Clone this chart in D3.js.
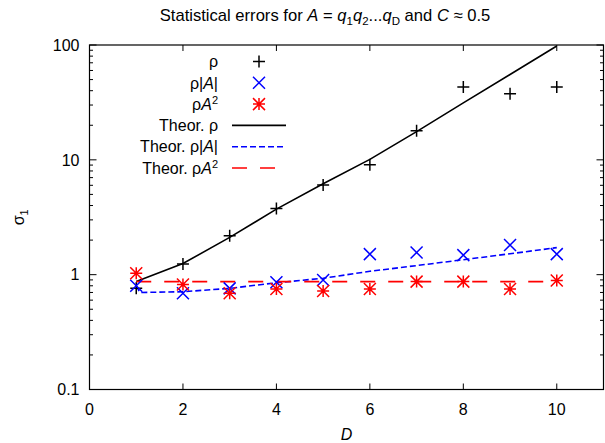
<!DOCTYPE html>
<html>
<head>
<meta charset="utf-8">
<script src="https://cdn.jsdelivr.net/npm/d3@7"></script>
<style>
  body { margin: 0; background: #fff; }
  text { font-family: "Liberation Sans", Arial, sans-serif; fill: #000; }
</style>
</head>
<body>
<div id="plot1"></div>
<script>
// Data
var dims = [1, 2, 3, 4, 5, 6, 7, 8, 9, 10];
var rhoErr = [0.76, 1.24, 2.18, 3.77, 6.03, 9.05, 17.9, 43.1, 37.7, 43.1];
var rhoAbsAErr = [0.80, 0.69, 0.76, 0.86, 0.90, 1.51, 1.56, 1.48, 1.81, 1.51];
var rhoA2Err = [1.03, 0.82, 0.69, 0.75, 0.72, 0.75, 0.87, 0.87, 0.75, 0.89];

// Theoretical curves
var theorRho = [0.87, 1.25, 2.11, 3.72, 6.2, 10.1, 17.6, 31.3, 55.4, 98];
var theorAbsADims = [1, 1.08, 2, 3, 4, 5, 6, 7, 8, 9, 10];
var theorAbsA = [0.80, 0.70, 0.71, 0.76, 0.85, 0.93, 1.07, 1.2, 1.35, 1.52, 1.72];
var theorA2 = [0.87, 0.87, 0.87, 0.87, 0.87, 0.87, 0.87, 0.87, 0.87, 0.87];

var xTicks = [0, 2, 4, 6, 8, 10];
var yTicks = [0.1, 1, 10, 100];

// SVG area
var svgWidth = 605;
var svgHeight = 443;

var margin = { top: 45, right: 1.5, bottom: 53.5, left: 89.5 };
var chartWidth = svgWidth - margin.left - margin.right;
var chartHeight = svgHeight - margin.top - margin.bottom;

var svg = d3.select("#plot1")
  .append("svg")
  .attr("width", svgWidth)
  .attr("height", svgHeight);

var chartGroup = svg.append("g")
  .attr("transform", `translate(${margin.left}, ${margin.top})`);

var xScale = d3.scaleLinear().domain([0, 11]).range([0, chartWidth]);
var yScale = d3.scaleLog().domain([0.1, 100]).range([chartHeight, 0]);

// minor ticks for the log axis
var yMinor = [];
[0.1, 1, 10].forEach(function(dec) {
  for (var k = 2; k <= 9; k++) yMinor.push(dec * k);
});

// ticks, mirrored on all sides (gnuplot style)
var tickGroup = chartGroup.append("g").attr("stroke", "#000").attr("stroke-width", 1);
xTicks.forEach(function(t) {
  var x = xScale(t);
  tickGroup.append("line").attr("x1", x).attr("x2", x).attr("y1", chartHeight).attr("y2", chartHeight - 6);
  tickGroup.append("line").attr("x1", x).attr("x2", x).attr("y1", 0).attr("y2", 6);
});
yTicks.forEach(function(t) {
  var y = yScale(t);
  tickGroup.append("line").attr("x1", 0).attr("x2", 7).attr("y1", y).attr("y2", y);
  tickGroup.append("line").attr("x1", chartWidth).attr("x2", chartWidth - 7).attr("y1", y).attr("y2", y);
});
yMinor.forEach(function(t) {
  var y = yScale(t);
  tickGroup.append("line").attr("x1", 0).attr("x2", 3.5).attr("y1", y).attr("y2", y);
  tickGroup.append("line").attr("x1", chartWidth).attr("x2", chartWidth - 3.5).attr("y1", y).attr("y2", y);
});

// border
chartGroup.append("rect")
  .attr("width", chartWidth)
  .attr("height", chartHeight)
  .attr("fill", "none")
  .attr("stroke", "#000")
  .attr("stroke-width", 1.2);

// tick labels
chartGroup.selectAll(".xlab")
  .data(xTicks)
  .enter()
  .append("text")
  .attr("x", d => xScale(d))
  .attr("y", chartHeight + 25)
  .attr("text-anchor", "middle")
  .attr("font-size", 16)
  .text(d => d);

chartGroup.selectAll(".ylab")
  .data(yTicks)
  .enter()
  .append("text")
  .attr("x", -10)
  .attr("y", d => yScale(d))
  .attr("dy", "0.36em")
  .attr("text-anchor", "end")
  .attr("font-size", 16)
  .text(d => d);

// axis titles
chartGroup.append("text")
  .attr("x", chartWidth / 2)
  .attr("y", chartHeight + 50)
  .attr("text-anchor", "middle")
  .attr("font-size", 16)
  .attr("font-style", "italic")
  .text("D");

var yTitle = svg.append("text")
  .attr("transform", `translate(24, ${margin.top + chartHeight / 2}) rotate(-90)`)
  .attr("text-anchor", "middle")
  .attr("font-size", 16);
yTitle.append("tspan").text("σ");
yTitle.append("tspan").attr("font-size", 11).attr("dy", 4).text("1");

// title
var title = svg.append("text")
  .attr("x", 325)
  .attr("y", 21)
  .attr("text-anchor", "middle")
  .attr("font-size", 16.6);
title.append("tspan").text("Statistical errors for ");
title.append("tspan").attr("font-style", "italic").text("A");
title.append("tspan").text(" = ");
title.append("tspan").attr("font-style", "italic").text("q");
title.append("tspan").attr("font-size", 11.5).attr("dy", 4).text("1");
title.append("tspan").attr("font-style", "italic").attr("dy", -4).text("q");
title.append("tspan").attr("font-size", 11.5).attr("dy", 4).text("2");
title.append("tspan").attr("dy", -4).text("...");
title.append("tspan").attr("font-style", "italic").text("q");
title.append("tspan").attr("font-size", 11.5).attr("dy", 4).text("D");
title.append("tspan").attr("dy", -4).text(" and ");
title.append("tspan").attr("font-style", "italic").text("C");
title.append("tspan").text(" ≈ 0.5");

// clip to the plot area
svg.append("defs").append("clipPath").attr("id", "clip")
  .append("rect").attr("width", chartWidth).attr("height", chartHeight);
var plotArea = chartGroup.append("g").attr("clip-path", "url(#clip)");

// theory lines
var lineFn = d3.line()
  .x(d => xScale(d[0]))
  .y(d => yScale(d[1]));

plotArea.append("path")
  .attr("d", lineFn(d3.zip(dims, theorRho)))
  .attr("fill", "none").attr("stroke", "#000").attr("stroke-width", 1.6);

plotArea.append("path")
  .attr("d", lineFn(d3.zip(theorAbsADims, theorAbsA)))
  .attr("fill", "none").attr("stroke", "#0000ff").attr("stroke-width", 1.6)
  .attr("stroke-dasharray", "6,3");

plotArea.append("path")
  .attr("d", lineFn(d3.zip(dims, theorA2)))
  .attr("fill", "none").attr("stroke", "#ff0000").attr("stroke-width", 1.6)
  .attr("stroke-dasharray", "15,13");

// point symbols
var s = 6;
function plus(g, x, y) {
  g.append("path").attr("d", `M${x - s},${y}H${x + s}M${x},${y - s}V${y + s}`)
    .attr("stroke", "#000").attr("stroke-width", 1.5);
}
function cross(g, x, y) {
  g.append("path").attr("d", `M${x - s},${y - s}L${x + s},${y + s}M${x - s},${y + s}L${x + s},${y - s}`)
    .attr("stroke", "#0000ff").attr("stroke-width", 1.5);
}
function star(g, x, y) {
  g.append("path").attr("d", `M${x - s},${y}H${x + s}M${x},${y - s}V${y + s}M${x - s},${y - s}L${x + s},${y + s}M${x - s},${y + s}L${x + s},${y - s}`)
    .attr("stroke", "#ff0000").attr("stroke-width", 1.5);
}

dims.forEach(function(d, i) {
  plus(plotArea, xScale(d), yScale(rhoErr[i]));
  cross(plotArea, xScale(d), yScale(rhoAbsAErr[i]));
  star(plotArea, xScale(d), yScale(rhoA2Err[i]));
});

// legend
var legend = svg.append("g");
var legX = 218, symX = 259, lineX1 = 232, lineX2 = 286;
var rowY = function(i) { return 61.5 + i * 21.3; };

function legendLabel(i, prefix, kind) {
  var t = legend.append("text")
    .attr("x", legX)
    .attr("y", rowY(i))
    .attr("dy", "0.36em")
    .attr("text-anchor", "end")
    .attr("font-size", 16);
  t.append("tspan").text(prefix + "ρ");
  if (kind === "abs") {
    t.append("tspan").text("|");
    t.append("tspan").attr("font-style", "italic").text("A");
    t.append("tspan").text("|");
  } else if (kind === "sq") {
    t.append("tspan").attr("font-style", "italic").text("A");
    t.append("tspan").attr("font-size", 11).attr("dy", -6).text("2");
  }
}

legendLabel(0, "", "");
legendLabel(1, "", "abs");
legendLabel(2, "", "sq");
legendLabel(3, "Theor. ", "");
legendLabel(4, "Theor. ", "abs");
legendLabel(5, "Theor. ", "sq");

plus(legend, symX, rowY(0));
cross(legend, symX, rowY(1));
star(legend, symX, rowY(2));

legend.append("line").attr("x1", lineX1).attr("x2", lineX2).attr("y1", rowY(3)).attr("y2", rowY(3))
  .attr("stroke", "#000").attr("stroke-width", 1.6);
legend.append("line").attr("x1", lineX1).attr("x2", lineX2).attr("y1", rowY(4)).attr("y2", rowY(4))
  .attr("stroke", "#0000ff").attr("stroke-width", 1.6).attr("stroke-dasharray", "6,3");
legend.append("line").attr("x1", lineX1).attr("x2", lineX2).attr("y1", rowY(5)).attr("y2", rowY(5))
  .attr("stroke", "#ff0000").attr("stroke-width", 1.6).attr("stroke-dasharray", "15,13");
</script>
</body>
</html>
